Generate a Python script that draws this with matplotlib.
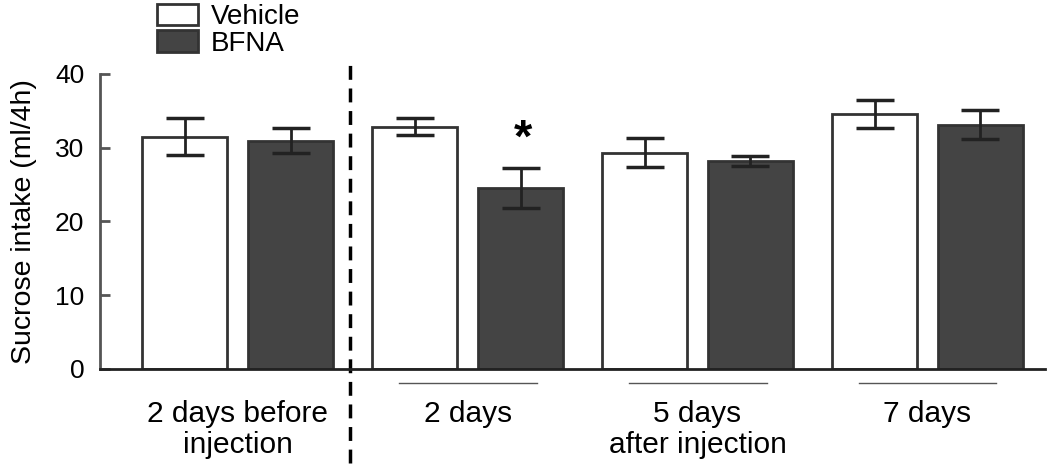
import matplotlib.pyplot as plt
import matplotlib.transforms as mtransforms
from matplotlib.patches import Patch
import numpy as np

plt.rcParams['font.family'] = ['Liberation Sans', 'DejaVu Sans']

groups = ['2 days before\ninjection', '2 days', '5 days\nafter injection', '7 days']
vehicle = [31.5, 32.8, 29.3, 34.5]
vehicle_err = [2.5, 1.15, 1.95, 1.9]
bfna = [30.9, 24.5, 28.2, 33.1]
bfna_err = [1.7, 2.75, 0.65, 1.95]
signif = [False, True, False, False]  # BFNA vs vehicle

x = np.arange(len(groups))
width = 0.37
off = 0.23

fig = plt.figure(figsize=(10.5, 4.7), dpi=100)
ax = fig.add_axes([0.095, 0.215, 0.9, 0.628])

ax.bar(x - off, vehicle, width, color='white', edgecolor='#333333', linewidth=2, zorder=2)
ax.bar(x + off, bfna, width, color='#444444', edgecolor='#333333', linewidth=2, zorder=2)
ax.errorbar(x - off, vehicle, yerr=vehicle_err, fmt='none', ecolor='#222222',
            elinewidth=2, capsize=14, capthick=2.5, zorder=3)
ax.errorbar(x + off, bfna, yerr=bfna_err, fmt='none', ecolor='#222222',
            elinewidth=2, capsize=14, capthick=2.5, zorder=3)

for i in range(len(groups)):
    if signif[i]:
        ax.text(x[i] + off + 0.01, bfna[i] + bfna_err[i] + 3.8, '*', ha='center', va='center',
                fontsize=34, fontweight='bold')

ax.set_xlim(-0.6, 3.51)
ax.set_ylim(0, 40)
ax.set_yticks([0, 10, 20, 30, 40])
ax.set_ylabel('Sucrose intake (ml/4h)', fontsize=20.5, labelpad=13)
ax.tick_params(axis='y', labelsize=19, direction='in', length=7, width=2,
               color='#555555', pad=11)
ax.set_xticks(x)
ax.set_xticklabels(groups, fontsize=21.5, linespacing=1.15)
ax.tick_params(axis='x', length=0, pad=22)

for s in ['top', 'right', 'bottom']:
    ax.spines[s].set_visible(False)
ax.spines['left'].set_color('#555555')
ax.spines['left'].set_linewidth(2)

# baseline
ax.axhline(0, color='#222222', lw=2, clip_on=False, zorder=4)

# lines under post-injection groups
trans = mtransforms.blended_transform_factory(ax.transData, ax.transAxes)
for i in range(1, len(groups)):
    ax.plot([x[i] - 0.3, x[i] + 0.3], [-0.048, -0.048], color='#555555', lw=1,
            transform=trans, clip_on=False)

# dashed divider
ax.plot([0.49, 0.49], [-0.32, 1.04], color='black', lw=2.5, ls=(0, (4, 2.5)),
        transform=trans, clip_on=False)

handles = [Patch(facecolor='white', edgecolor='#333333', linewidth=2, label='Vehicle'),
           Patch(facecolor='#444444', edgecolor='#333333', linewidth=2, label='BFNA')]
fig.legend(handles=handles, loc='upper left', bbox_to_anchor=(0.144, 1.003), frameon=False,
           fontsize=20, handlelength=1.5, handleheight=0.8, handletextpad=0.45,
           labelspacing=0.0, borderaxespad=0, borderpad=0.2)

fig.savefig('out.png', dpi=100)
